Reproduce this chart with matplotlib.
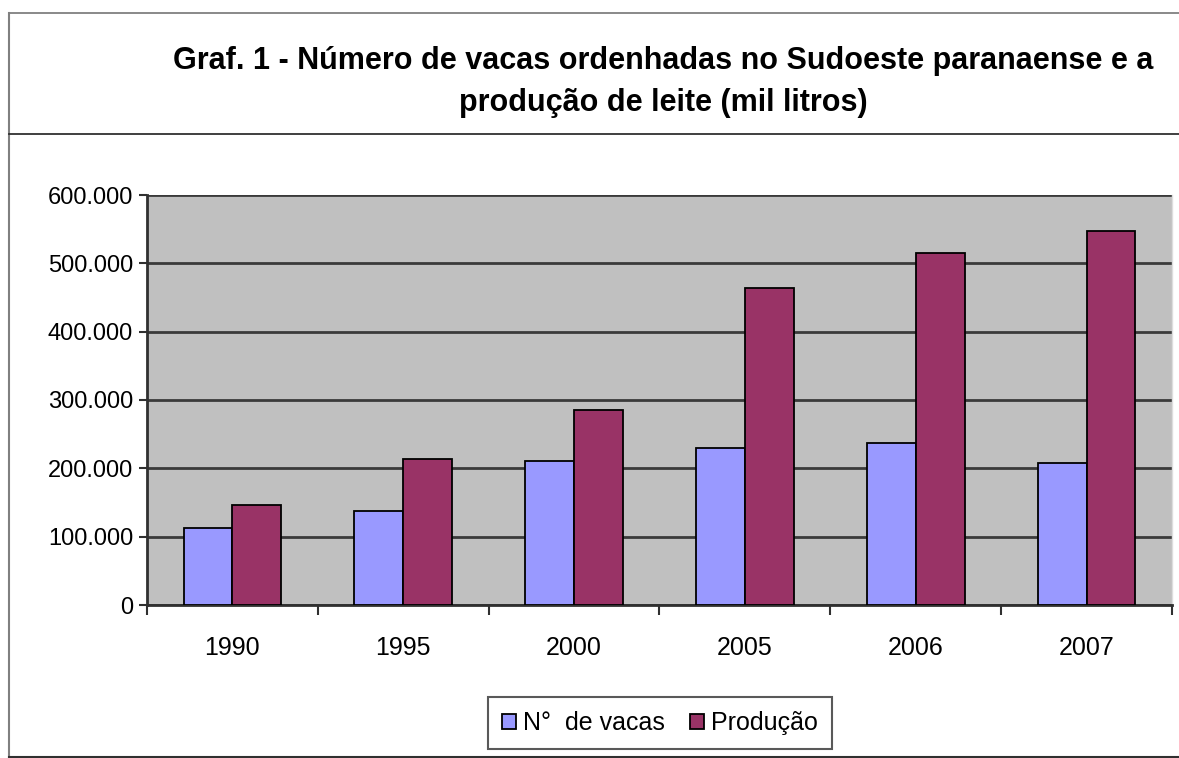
import matplotlib
matplotlib.use('Agg')
import matplotlib.pyplot as plt
import numpy as np
from matplotlib.lines import Line2D
from matplotlib.ticker import FuncFormatter

# values
years = ['1990', '1995', '2000', '2005', '2006', '2007']
vacas = [113000, 137000, 211000, 230000, 237000, 208000]
producao = [146000, 214000, 285000, 464000, 515000, 548000]
series_names = ['N°  de vacas', 'Produção']
title_text = 'Graf. 1 - Número de vacas ordenhadas no Sudoeste paranaense e a\nprodução de leite (mil litros)'

plt.rcParams['font.family'] = ['Liberation Sans', 'DejaVu Sans']

fig = plt.figure(figsize=(11.79, 7.58), dpi=100)
fig.patch.set_facecolor('white')

W, H = 1179, 758
ax = fig.add_axes([147 / W, 1 - 605 / H, (1172 - 147) / W, (605 - 195) / H])
ax.set_facecolor('#C0C0C0')

x = np.arange(len(years))
bw = 0.286
ax.bar(x - bw / 2, vacas, width=bw, color='#9999FF', edgecolor='black', linewidth=1.3,
       label=series_names[0], zorder=3)
ax.bar(x + bw / 2, producao, width=bw, color='#993366', edgecolor='black', linewidth=1.3,
       label=series_names[1], zorder=3)

ax.set_xlim(-0.5, len(years) - 0.5)
ax.set_ylim(0, 600000)
ax.set_yticks(np.arange(0, 600001, 100000))
ax.yaxis.set_major_formatter(FuncFormatter(lambda v, p: f'{int(v):,}'.replace(',', '.')))
ax.grid(axis='y', color='#3a3a3a', linewidth=2, zorder=1)
ax.set_axisbelow(True)

# category labels centred, ticks at category boundaries
ax.set_xticks(x)
ax.set_xticklabels(years, fontsize=18)
ax.set_xticks(np.arange(-0.5, len(years)), minor=True)
ax.tick_params(axis='x', which='major', length=0, pad=22)
ax.tick_params(axis='x', which='minor', length=7, width=1.5, color='#303030', direction='out')
ax.tick_params(axis='y', labelsize=17, length=6, width=1.5, color='#303030', pad=4)

for side in ['left', 'bottom']:
    ax.spines[side].set_color('#303030')
    ax.spines[side].set_linewidth(2)
ax.spines['top'].set_visible(False)
ax.spines['right'].set_color('#dddddd')
ax.spines['right'].set_linewidth(1)

leg = ax.legend(loc='center', bbox_to_anchor=((660 - 147) / (1172 - 147), -(723 - 605) / (605 - 195)),
                ncol=2, fontsize=18, frameon=True, fancybox=False, edgecolor='#303030',
                handlelength=0.55, handleheight=0.55, handletextpad=0.3, columnspacing=1.0,
                borderpad=0.55)
leg.get_frame().set_linewidth(1.5)

fig.text(663 / W, 1 - 82 / H, title_text, ha='center', va='center', fontsize=22,
         fontweight='bold', linespacing=1.55,
         family=['Liberation Sans Narrow', 'Liberation Sans', 'DejaVu Sans'])

# outer frame and title separator
fig.add_artist(Line2D([9.5 / W, 1.0], [1 - 12.5 / H, 1 - 12.5 / H], color='#808080', lw=1.3))
fig.add_artist(Line2D([9.5 / W, 9.5 / W], [1 - 12.5 / H, 1 - 757 / H], color='#808080', lw=1.5))
fig.add_artist(Line2D([9.5 / W, 1.0], [1 - 134 / H, 1 - 134 / H], color='#303030', lw=1.3))
fig.add_artist(Line2D([9.5 / W, 1.0], [1 - 757 / H, 1 - 757 / H], color='#303030', lw=1.5))

fig.savefig('out.png', dpi=100)
